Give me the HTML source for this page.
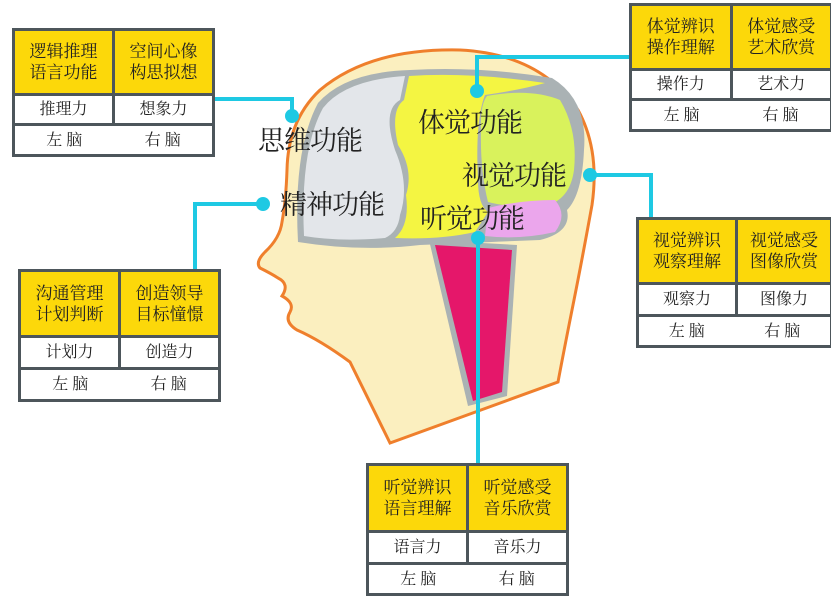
<!DOCTYPE html>
<html><head><meta charset="utf-8"><style>
body{margin:0;width:831px;height:589px;background:#fff;position:relative;overflow:hidden;font-family:"Liberation Serif","Noto Serif CJK SC","Noto Sans CJK SC",serif;}
.t{position:absolute;border-collapse:collapse;background:#fff;}
.t td{border:3px solid #4d565b;text-align:center;color:#222;padding:0;font-size:16px;line-height:19px;}
.t td.y{background:#fcd80a;font-size:17px;line-height:21px;}
.lbl{position:absolute;font-family:"Noto Serif CJK SC","Noto Sans CJK SC",serif;font-size:27px;color:#222;white-space:nowrap;line-height:30px;letter-spacing:-1px;}
</style></head><body>
<svg width="831" height="589" style="position:absolute;left:0;top:0">
<path d="M390,443 L350,362 Q320,340 297,330 Q284,322 290,312 Q295,303 282,296 Q290,284 278,278 Q272,274 260,268 Q255,262 265,252 Q280,238 282,222 Q286,200 287,170 Q288,120 320,90 Q370,48 460,50 Q540,54 578,110 Q600,150 592,205 Q582,260 574,300 Q564,350 558,382 Z" fill="#fbefbf" stroke="#ef7f2c" stroke-width="3"/>
<path d="M468,406 L429,240 L517,245 L507,396 Z" fill="#aab2b4"/>
<path d="M473,401 L435,245 L512,250 L502,392 Z" fill="#e5176a"/>
<path d="M298,242 Q293,150 318,103 Q345,72 410,70 Q480,66 552,78 Q588,100 584,150 Q582,195 567,210 Q572,232 540,240 Q490,242 420,245 Q360,252 298,242 Z" fill="#aab2b4"/>
<path d="M304,236 Q300,150 323,108 Q345,80 405,76 L400,100 Q382,110 395,150 Q410,185 400,215 Q398,232 385,238 Q340,242 304,236 Z" fill="#e3e6ea"/>
<path d="M409,76 Q470,72 545,83 Q520,90 485,95 Q475,120 478,180 Q478,205 488,212 L475,232 Q440,240 395,238 Q410,225 406,195 Q414,170 398,145 Q390,110 404,100 Z" fill="#f4f542"/>
<path d="M487,96 Q530,88 560,100 Q578,130 574,170 Q570,200 545,206 Q510,208 488,202 Q480,170 481,130 Q480,105 487,96 Z" fill="#d9f25c"/>
<path d="M488,208 Q520,200 555,200 Q568,215 555,232 Q520,240 485,236 Z" fill="#eba6ec"/>
<g stroke="#1ec9e3" stroke-width="4" fill="none">
<polyline points="214,99 292,99 292,116"/>
<polyline points="477,91 477,57 630,57"/>
<polyline points="590,175 651,175 651,218"/>
<polyline points="263,204 195,204 195,270"/>
<line x1="478" y1="238" x2="478" y2="464"/>
</g>
<g fill="#1ec9e3">
<circle cx="292" cy="116" r="7"/><circle cx="477" cy="91" r="7"/><circle cx="590" cy="175" r="7"/><circle cx="263" cy="204" r="7"/><circle cx="478" cy="238" r="7"/>
</g>
</svg>
<div class="lbl" style="left:258px;top:124px">思维功能</div>
<div class="lbl" style="left:280px;top:188px">精神功能</div>
<div class="lbl" style="left:418px;top:106px">体觉功能</div>
<div class="lbl" style="left:462px;top:159px">视觉功能</div>
<div class="lbl" style="left:420px;top:202px">听觉功能</div>

<table class="t" style="left:12px;top:28px;width:203px;height:128px">
<tr style="height:65px"><td class="y" style="width:50%">逻辑推理<br>语言功能</td><td class="y">空间心像<br>构思拟想</td></tr>
<tr style="height:30px"><td>推理力</td><td>想象力</td></tr>
<tr style="height:31px"><td colspan="2"><span style="display:inline-block;width:50%">左 脑</span><span style="display:inline-block;width:50%">右 脑</span></td></tr>
</table>
<table class="t" style="left:629px;top:3px;width:204px;height:128px">
<tr style="height:65px"><td class="y" style="width:50%">体觉辨识<br>操作理解</td><td class="y">体觉感受<br>艺术欣赏</td></tr>
<tr style="height:30px"><td>操作力</td><td>艺术力</td></tr>
<tr style="height:31px"><td colspan="2"><span style="display:inline-block;width:50%">左 脑</span><span style="display:inline-block;width:50%">右 脑</span></td></tr>
</table>
<table class="t" style="left:636px;top:217px;width:197px;height:129px">
<tr style="height:65px"><td class="y" style="width:51%">视觉辨识<br>观察理解</td><td class="y">视觉感受<br>图像欣赏</td></tr>
<tr style="height:32px"><td>观察力</td><td>图像力</td></tr>
<tr style="height:31px"><td colspan="2"><span style="display:inline-block;width:50%">左 脑</span><span style="display:inline-block;width:50%">右 脑</span></td></tr>
</table>
<table class="t" style="left:18px;top:269px;width:203px;height:130px">
<tr style="height:66px"><td class="y" style="width:50%">沟通管理<br>计划判断</td><td class="y">创造领导<br>目标憧憬</td></tr>
<tr style="height:32px"><td>计划力</td><td>创造力</td></tr>
<tr style="height:32px"><td colspan="2"><span style="display:inline-block;width:50%">左 脑</span><span style="display:inline-block;width:50%">右 脑</span></td></tr>
</table>
<table class="t" style="left:366px;top:463px;width:203px;height:130px">
<tr style="height:67px"><td class="y" style="width:50%">听觉辨识<br>语言理解</td><td class="y">听觉感受<br>音乐欣赏</td></tr>
<tr style="height:32px"><td>语言力</td><td>音乐力</td></tr>
<tr style="height:31px"><td colspan="2"><span style="display:inline-block;width:50%">左 脑</span><span style="display:inline-block;width:50%">右 脑</span></td></tr>
</table>
</body></html>
